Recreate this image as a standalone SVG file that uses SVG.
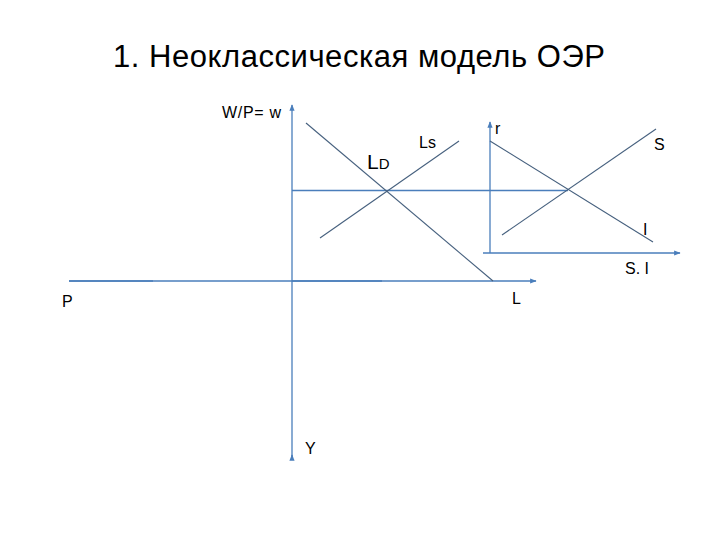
<svg xmlns="http://www.w3.org/2000/svg" width="720" height="540" viewBox="0 0 720 540">
<style>
.ax{stroke:#4a7ebb;stroke-width:1.3;fill:none}
.cv{stroke:#46607e;stroke-width:1.1;fill:none}
.t{font-family:"Liberation Sans",Arial,sans-serif;fill:#000}
.lb{font-size:16px}
</style>
<defs>
<marker id="ah" viewBox="0 0 10 10" refX="9" refY="5" markerWidth="5" markerHeight="5" orient="auto-start-reverse">
<path d="M0,1 L10,5 L0,9 z" fill="#4a7ebb"/>
</marker>
</defs>
<rect width="720" height="540" fill="#fff"/>
<text class="t" x="113" y="67" font-size="31" textLength="492" lengthAdjust="spacing">1. Неоклассическая модель ОЭР</text>
<g id="connectors">
<line class="ax" x1="292" y1="459" x2="292" y2="105" marker-end="url(#ah)"/>
<line class="ax" x1="69" y1="281" x2="536" y2="281" marker-end="url(#ah)"/>
<line class="ax" x1="69" y1="281" x2="153" y2="281" stroke-width="2.2"/>
<line class="ax" x1="292" y1="281" x2="382" y2="281" stroke-width="2"/>
<line class="ax" x1="292" y1="459" x2="292" y2="455" marker-end="url(#ah)"/>
<line class="ax" x1="292" y1="190.5" x2="568" y2="190.5"/>
<line class="ax" x1="490" y1="253" x2="490" y2="122" marker-end="url(#ah)"/>
<line class="ax" x1="483" y1="253" x2="680" y2="253" stroke-width="2" marker-end="url(#ah)"/>
<line class="cv" x1="306" y1="123" x2="493" y2="281"/>
<line class="cv" x1="459" y1="141" x2="320" y2="238"/>
<line class="cv" x1="490" y1="141" x2="653" y2="242"/>
<line class="cv" x1="502" y1="235" x2="656" y2="129"/>
</g>
<g id="labels">
<text class="t lb" x="222" y="118" textLength="59" lengthAdjust="spacing">W/P= w</text>
<text class="t" x="367" y="169" font-size="21">L<tspan font-size="15">D</tspan></text>
<text class="t lb" x="419" y="148">Ls</text>
<text class="t" x="495" y="134" font-size="16">r</text>
<text class="t" x="654" y="150" font-size="16">S</text>
<text class="t" x="643" y="235" font-size="16">I</text>
<text class="t lb" x="625" y="274">S. I</text>
<text class="t lb" x="512" y="304">L</text>
<text class="t lb" x="62" y="307">P</text>
<text class="t lb" x="305" y="454">Y</text>
</g>
</svg>
